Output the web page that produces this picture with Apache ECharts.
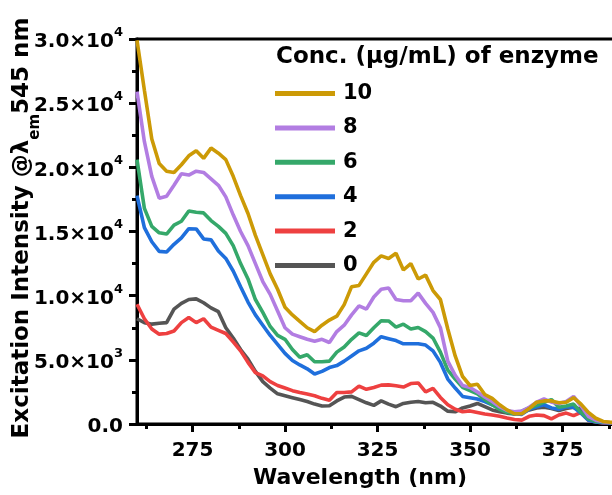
<!DOCTYPE html>
<html>
<head>
<meta charset="utf-8">
<script src="https://cdn.jsdelivr.net/npm/echarts@6/dist/echarts.min.js"></script>
<style>html,body{margin:0;padding:0;background:#fff}#c{width:612px;height:495px}</style>
</head>
<body>
<div id="c"></div>
<script>
const wavelengths = [260,262,264,266,268,270,272,274,276,278,280,282,284,286,288,290,292,294,296,298,300,302,304,306,308,310,312,314,316,318,320,322,324,326,328,330,332,334,336,338,340,342,344,346,348,350,352,354,356,358,360,362,364,366,368,370,372,374,376,378,380,382,384,386,388,390];
const conc10 = [29900,26000,22200,20300,19700,19600,20200,20900,21300,20700,21500,21100,20600,19300,17800,16400,14700,13200,11700,10500,9100,8500,8000,7500,7200,7700,8100,8400,9300,10700,10800,11700,12600,13100,12900,13300,12000,12500,11300,11600,10400,9700,7400,5300,3700,3000,3100,2300,2000,1500,1100,800,800,1200,1700,1800,1800,1650,1700,2050,1550,900,450,200,130,100];
const conc8 = [25900,22000,19300,17600,17750,18600,19500,19400,19700,19600,19100,18600,17700,16300,15000,13900,12500,11100,10100,8800,7500,7000,6800,6600,6450,6600,6350,7200,7700,8500,9200,8950,9900,10500,10600,9700,9600,9600,10200,9400,8700,7500,4900,3800,3000,2850,2500,2100,1750,1350,1050,950,1000,1300,1700,1950,1700,1600,1750,2150,1400,600,300,170,100,80];
const conc6 = [20600,16800,15400,14900,14800,15500,15800,16600,16500,16450,15850,15400,14850,13900,12500,11300,9700,8700,7600,6900,6600,5800,5200,5400,4850,4850,4900,5600,6000,6600,7100,6900,7500,8050,8030,7550,7780,7400,7520,7200,6700,5600,4200,3500,2850,2600,2350,1900,1500,1150,900,800,1000,1250,1450,1700,1900,1300,1400,1550,900,400,200,150,100,80];
const conc4 = [17800,15300,14200,13450,13400,14000,14500,15220,15200,14420,14350,13480,12900,11920,10700,9500,8500,7700,6900,6200,5500,4950,4600,4300,3900,4100,4400,4550,4900,5300,5700,5900,6300,6800,6650,6500,6250,6250,6250,6150,5700,4800,3500,2800,2150,2050,1950,1750,1500,1250,1000,800,750,1150,1350,1500,1250,1150,1350,1300,850,300,150,100,80,60];
const conc2 = [9330,8200,7400,7000,7050,7250,7900,8300,7900,8200,7550,7300,7050,6400,5700,4800,4000,3750,3300,3000,2800,2600,2450,2330,2200,2000,1850,2460,2460,2500,2950,2700,2850,3030,3050,2980,2880,3150,3200,2500,2770,2070,1500,1150,950,1020,900,780,700,600,470,350,300,600,700,650,400,700,850,650,900,300,150,80,60,50];
const conc0 = [8200,7900,7780,7850,7900,8950,9400,9700,9750,9450,9050,8750,7500,6700,5800,5050,4100,3300,2800,2350,2200,2050,1900,1750,1550,1400,1420,1800,2100,2150,1900,1650,1450,1800,1550,1350,1600,1700,1750,1650,1690,1400,1000,950,1250,1400,1600,1350,1100,950,850,780,900,1100,1250,1300,1200,1050,1200,1300,1150,450,200,100,60,50];
const seriesNames = ['0','2','4','6','8','10'];
const seriesColors = ['#555555','#EE4040','#1F6FDC','#35A86A','#B27DE2','#CC9A06'];
const xMajorTicks = [275,300,325,350,375];
const xMinorTicks = [262.5,287.5,312.5,337.5,362.5,387.5];
const yTickLabels = {0:'0.0',5000:'5.0×10|3',10000:'1.0×10|4',15000:'1.5×10|4',20000:'2.0×10|4',25000:'2.5×10|4',30000:'3.0×10|4'};

const allData = [conc0, conc2, conc4, conc6, conc8, conc10];
const FF = '"DejaVu Sans", sans-serif';

const chart = echarts.init(document.getElementById('c'), null, {renderer:'canvas'});
const series = allData.map((arr, i) => ({
  name: seriesNames[i],
  type: 'line',
  xAxisIndex: 0,
  symbol: 'none',
  smooth: false,
  data: wavelengths.map((w, j) => [w, arr[j]]),
  lineStyle: {color: seriesColors[i], width: 3.6},
  itemStyle: {color: seriesColors[i]},
  emphasis: {disabled: true},
  animation: false
}));

chart.setOption({
  animation: false,
  backgroundColor: '#fff',
  grid: {left: 137, top: 39, right: -6, bottom: 71, show: true, borderColor: '#000', borderWidth: 3, backgroundColor: 'transparent', outerBoundsMode: 'none', containLabel: false},
  title: {
    text: 'Conc. (μg/mL) of enzyme', left: 276, top: 46, padding: 0,
    textStyle: {fontFamily: FF, fontWeight: 'bold', fontSize: 23, color: '#000'}
  },
  legend: {
    data: ['10','8','6','4','2','0'],
    orient: 'vertical', left: 275, top: 83, padding: 0,
    icon: 'rect', itemWidth: 60, itemHeight: 5, itemGap: 13.4,
    textStyle: {fontFamily: FF, fontWeight: 'bold', fontSize: 21, color: '#000', padding: [0,0,0,3]},
    selectedMode: false
  },
  xAxis: [{
    type: 'value', min: 260, max: 390, position: 'bottom',
    axisLine: {show: true, onZero: false, lineStyle: {color: '#000', width: 3}},
    axisTick: {show: true, customValues: xMajorTicks, length: 8, lineStyle: {color: '#000', width: 3}},
    axisLabel: {show: true, customValues: xMajorTicks, margin: 17, color: '#000', fontFamily: FF, fontWeight: 'bold', fontSize: 20},
    splitLine: {show: false}
  }, {
    type: 'value', min: 260, max: 390, position: 'bottom',
    axisLine: {show: false},
    axisTick: {show: true, customValues: xMinorTicks, length: 5, lineStyle: {color: '#000', width: 3}},
    axisLabel: {show: false},
    splitLine: {show: false}
  }],
  yAxis: {
    type: 'value', min: 0, max: 30000, interval: 5000,
    axisLine: {show: true, lineStyle: {color: '#000', width: 3}},
    axisTick: {show: true, length: 8, lineStyle: {color: '#000', width: 3}},
    minorTick: {show: true, splitNumber: 2, length: 5, lineStyle: {color: '#000', width: 3}},
    splitLine: {show: false},
    axisLabel: {
      margin: 14, color: '#000',
      formatter: function (v) {
        const s = yTickLabels[v];
        if (s === undefined) return '';
        const p = s.split('|');
        return p.length === 1 ? '{m|' + p[0] + '}' : '{m|' + p[0] + '}{s|' + p[1] + '}';
      },
      rich: {
        m: {fontFamily: FF, fontWeight: 'bold', fontSize: 20, color: '#000', verticalAlign: 'bottom', lineHeight: 26},
        s: {fontFamily: FF, fontWeight: 'bold', fontSize: 13, color: '#000', verticalAlign: 'top', lineHeight: 26}
      }
    }
  },
  graphic: [{
    type: 'text', x: 360, y: 478, silent: true,
    style: {text: 'Wavelength (nm)', font: 'bold 22px ' + FF, fill: '#000', align: 'center', verticalAlign: 'middle'}
  }, {
    type: 'text', x: 27, y: 228, rotation: Math.PI / 2, silent: true,
    style: {
      text: '{a|Excitation Intensity @λ}{b|em}{a|545 nm}',
      align: 'center', verticalAlign: 'middle',
      rich: {
        a: {fontFamily: FF, fontWeight: 'bold', fontSize: 23, fill: '#000', color: '#000', verticalAlign: 'top', lineHeight: 32},
        b: {fontFamily: FF, fontWeight: 'bold', fontSize: 15, fill: '#000', color: '#000', verticalAlign: 'bottom', lineHeight: 32}
      }
    }
  }],
  series: series
});
</script>
</body>
</html>
